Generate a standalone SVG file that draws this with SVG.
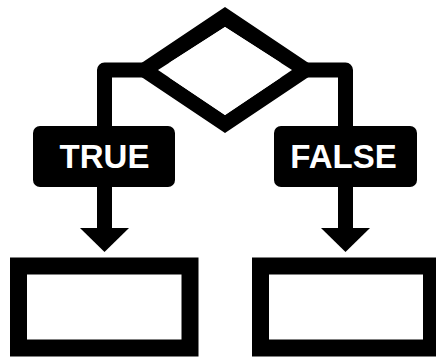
<svg xmlns="http://www.w3.org/2000/svg" width="436" height="357" viewBox="0 0 436 357">
  <style>
    .line { fill: none; stroke: #000; stroke-width: 15; stroke-linejoin: round; }
    .box { fill: #fff; stroke: #000; stroke-width: 17; }
    .label { fill: #000; }
    .labeltext { fill: #fff; font-family: "Liberation Sans", Arial, sans-serif; font-weight: bold; font-size: 33px; text-anchor: middle; }
    .head { fill: #000; }
  </style>
  <rect width="436" height="357" fill="#fff"/>
  <g id="connectors">
    <path class="line" d="M104.5 160 V70 H345.5 V160"/>
    <path class="line" d="M104.5 180 V230"/>
    <path class="line" d="M345.5 180 V230"/>
    <polygon class="head" points="80,228 129,228 104.5,252"/>
    <polygon class="head" points="321,228 370,228 345.5,252"/>
  </g>
  <g id="decision">
    <path fill="#000" fill-rule="evenodd" d="M225 7 L319 70 L225 133 L131 70 Z M225 27 L158 70 L225 115 L292 70 Z"/>
    <path fill="#fff" d="M225 27 L158 70 L225 115 L292 70 Z"/>
  </g>
  <g id="label-true">
    <rect class="label" x="33" y="126" width="142" height="61" rx="7"/>
    <text class="labeltext" x="104.5" y="168">TRUE</text>
  </g>
  <g id="label-false">
    <rect class="label" x="274" y="126" width="143" height="61" rx="7"/>
    <text class="labeltext" x="343.5" y="168">FALSE</text>
  </g>
  <g id="box-true">
    <rect class="box" x="18.5" y="266" width="171.5" height="82"/>
  </g>
  <g id="box-false">
    <rect class="box" x="260.5" y="266" width="171" height="82"/>
  </g>
</svg>
